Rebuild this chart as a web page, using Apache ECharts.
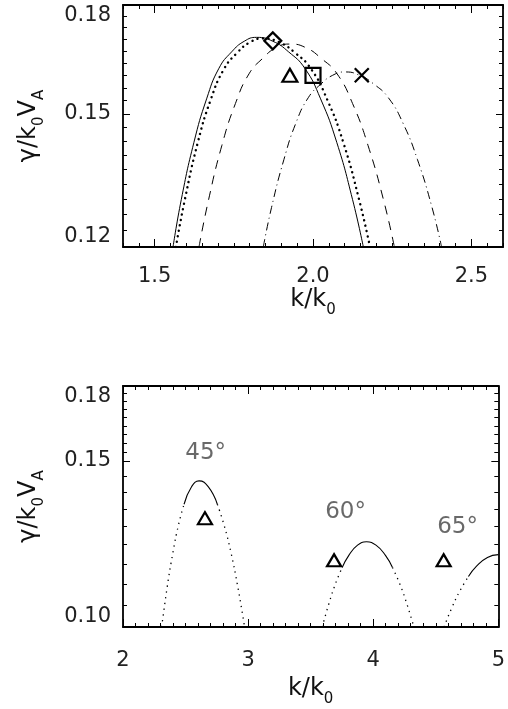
<!DOCTYPE html>
<html><head><meta charset="utf-8">
<script src="https://cdn.jsdelivr.net/npm/echarts@6/dist/echarts.min.js"></script>
<style>html,body{margin:0;padding:0;background:#fff}#c{width:508px;height:709px}</style>
</head><body><div id="c"></div>
<script>
const FONT = 'DejaVu Sans';

// ---------- top panel data ----------
const solidK  = [1.558, 1.584, 1.624, 1.664, 1.703, 1.743, 1.783, 1.822, 1.873, 1.923, 1.974, 2.024, 2.075, 2.125, 2.159];
const solidG  = [0.1200, 0.1299, 0.1430, 0.1538, 0.1619, 0.1664, 0.1694, 0.1705, 0.1694, 0.1664, 0.1619, 0.1538, 0.1430, 0.1299, 0.1200];
const dotK    = [1.567, 1.595, 1.636, 1.677, 1.719, 1.760, 1.801, 1.842, 1.893, 1.944, 1.994, 2.045, 2.096, 2.146, 2.180];
const dotG    = [0.1200, 0.1298, 0.1429, 0.1536, 0.1617, 0.1661, 0.1691, 0.1702, 0.1691, 0.1661, 0.1617, 0.1536, 0.1429, 0.1298, 0.1200];
const dashK   = [1.640, 1.669, 1.712, 1.755, 1.798, 1.841, 1.884, 1.927, 1.977, 2.026, 2.076, 2.125, 2.174, 2.224, 2.257];
const dashG   = [0.1200, 0.1295, 0.1422, 0.1526, 0.1604, 0.1646, 0.1676, 0.1686, 0.1676, 0.1646, 0.1604, 0.1526, 0.1422, 0.1295, 0.1200];
const ddK     = [1.843, 1.869, 1.908, 1.946, 1.985, 2.024, 2.062, 2.101, 2.147, 2.193, 2.238, 2.284, 2.330, 2.376, 2.406];
const ddG     = [0.1200, 0.1282, 0.1389, 0.1477, 0.1541, 0.1576, 0.1600, 0.1609, 0.1600, 0.1576, 0.1541, 0.1477, 0.1389, 0.1282, 0.1200];
const diamondPt  = [1.873, 0.1695];
const trianglePt = [1.927, 0.1600];
const squarePt   = [2.000, 0.1600];
const crossPt    = [2.154, 0.1600];

// ---------- bottom panel data ----------
const c45K = [2.309, 2.354, 2.399, 2.443, 2.488, 2.548, 2.608, 2.681, 2.754, 2.808, 2.863, 2.917, 2.972];
const c45G = [0.1000, 0.1104, 0.1199, 0.1282, 0.1349, 0.1408, 0.1428, 0.1408, 0.1349, 0.1282, 0.1199, 0.1104, 0.1000];
const c60K = [3.593, 3.646, 3.699, 3.752, 3.805, 3.875, 3.946, 4.022, 4.098, 4.154, 4.211, 4.268, 4.325];
const c60G = [0.1000, 0.1059, 0.1112, 0.1156, 0.1191, 0.1221, 0.1231, 0.1221, 0.1191, 0.1156, 0.1112, 0.1059, 0.1000];
const c65K = [4.566, 4.631, 4.696, 4.761, 4.826, 4.913, 5.000];
const c65G = [0.1000, 0.1050, 0.1094, 0.1131, 0.1160, 0.1185, 0.1193];
const triK = [2.655, 3.687, 4.563];
const triG = [0.1304, 0.1177, 0.1177];
const angleNames = ['45°', '60°', '65°'];
const angleK = [2.661, 3.779, 4.674];
const angleG = [0.1527, 0.1325, 0.1277];

// ---------- ticks ----------
const topXTicks = [1.5, 2.0, 2.5];
const topYTicks = [0.12, 0.15, 0.18];
const topYMinor = []; for (let i = 0; i <= 18; i++) topYMinor.push(+(0.12 + i / 300).toFixed(5));
const botYTicks = [0.10, 0.15, 0.18];
const botYMinor = [];
for (let i = 0; i <= 9; i++) botYMinor.push(+(0.10 + i * 0.05 / 9).toFixed(5));
for (let i = 1; i <= 9; i++) botYMinor.push(+(0.15 + i / 300).toFixed(5));

const pts = (ks, gs, a, b) => ks.slice(a, b + 1).map((k, i) => [k, gs[a + i]]);

const richName = {
  a: {fontFamily: FONT, fontSize: 24, color: '#111', lineHeight: 30, verticalAlign: 'top'},
  s: {fontFamily: FONT, fontSize: 15, color: '#111', lineHeight: 13, verticalAlign: 'bottom'}
};
const BLACK = '#000';
const LABEL_COLOR = '#222';

function xAxisDef(grid, pos, min, max, opts) {
  return Object.assign({
    type: 'value', gridIndex: grid, position: pos, min: min, max: max,
    axisLine: {show: true, onZero: false, lineStyle: {color: BLACK, width: 1.8}},
    axisTick: {show: true, inside: true, length: 8, lineStyle: {color: BLACK, width: 1}},
    axisLabel: {show: false},
    splitLine: {show: false}
  }, opts);
}
function yAxisDef(grid, pos, min, max, opts) {
  return Object.assign({
    type: 'log', logBase: 10, gridIndex: grid, position: pos, min: min, max: max,
    axisLine: {show: true, onZero: false, lineStyle: {color: BLACK, width: 1.8}},
    axisTick: {show: true, inside: true, length: 7, lineStyle: {color: BLACK, width: 1}},
    axisLabel: {show: false},
    splitLine: {show: false}, minorSplitLine: {show: false}
  }, opts);
}
const minorX = (grid, pos, min, max, interval) => xAxisDef(grid, pos, min, max, {
  interval: interval,
  axisLine: {show: false, onZero: false},
  axisTick: {show: true, inside: true, length: 4, lineStyle: {color: BLACK, width: 1}}
});
const minorY = (grid, pos, min, max, vals) => yAxisDef(grid, pos, min, max, {
  axisLine: {show: false, onZero: false},
  axisTick: {show: true, inside: true, length: 4, customValues: vals, lineStyle: {color: BLACK, width: 1}}
});
const yLabel = (vals, fmt) => ({
  show: true, customValues: vals, formatter: fmt, margin: 12,
  color: LABEL_COLOR, fontFamily: FONT, fontSize: 21,
  verticalAlignMinLabel: 'bottom', verticalAlignMaxLabel: 'top'
});

const xAxes = [
  // top panel
  xAxisDef(0, 'bottom', 1.4, 2.6, {
    axisTick: {show: true, inside: true, length: 8, customValues: topXTicks, lineStyle: {color: BLACK, width: 1}},
    axisLabel: {show: true, customValues: topXTicks, formatter: v => v.toFixed(1), margin: 19,
      color: LABEL_COLOR, fontFamily: FONT, fontSize: 21},
    name: '{a|k/k}{s|0}', nameLocation: 'middle', nameGap: 38,
    nameTextStyle: {rich: richName}
  }),
  minorX(0, 'bottom', 1.4, 2.6, 0.05),
  xAxisDef(0, 'top', 1.4, 2.6, {
    axisTick: {show: true, inside: true, length: 8, customValues: topXTicks, lineStyle: {color: BLACK, width: 1}}
  }),
  minorX(0, 'top', 1.4, 2.6, 0.05),
  // bottom panel
  xAxisDef(1, 'bottom', 2, 5, {
    interval: 1,
    minorTick: {show: true, splitNumber: 10, length: 4, lineStyle: {color: BLACK, width: 1}},
    axisLabel: {show: true, formatter: v => String(v), margin: 23,
      color: LABEL_COLOR, fontFamily: FONT, fontSize: 21},
    name: '{a|k/k}{s|0}', nameLocation: 'middle', nameGap: 50,
    nameTextStyle: {rich: richName}
  }),
  xAxisDef(1, 'top', 2, 5, {
    interval: 1,
    minorTick: {show: true, splitNumber: 10, length: 4, lineStyle: {color: BLACK, width: 1}}
  })
];

const yName = '{a|γ/k}{s|0}{a|V}{s|A}';
const yAxes = [
  yAxisDef(0, 'left', 0.12, 0.18, {
    axisTick: {show: true, inside: true, length: 7, customValues: topYTicks, lineStyle: {color: BLACK, width: 1}},
    axisLabel: yLabel(topYTicks, v => v.toFixed(2)),
    name: yName, nameLocation: 'middle', nameRotate: 90, nameGap: 76,
    nameTextStyle: {rich: richName}
  }),
  minorY(0, 'left', 0.12, 0.18, topYMinor),
  yAxisDef(0, 'right', 0.12, 0.18, {
    axisTick: {show: true, inside: true, length: 7, customValues: topYTicks, lineStyle: {color: BLACK, width: 1}}
  }),
  minorY(0, 'right', 0.12, 0.18, topYMinor),
  yAxisDef(1, 'left', 0.10, 0.18, {
    axisTick: {show: true, inside: true, length: 7, customValues: botYTicks, lineStyle: {color: BLACK, width: 1}},
    axisLabel: yLabel(botYTicks, v => v.toFixed(2)),
    name: yName, nameLocation: 'middle', nameRotate: 90, nameGap: 76,
    nameTextStyle: {rich: richName}
  }),
  minorY(1, 'left', 0.10, 0.18, botYMinor),
  yAxisDef(1, 'right', 0.10, 0.18, {
    axisTick: {show: true, inside: true, length: 7, customValues: botYTicks, lineStyle: {color: BLACK, width: 1}}
  }),
  minorY(1, 'right', 0.10, 0.18, botYMinor)
];

const curve = (ks, gs, a, b, ls, xi, yi) => ({
  type: 'line', xAxisIndex: xi, yAxisIndex: yi, data: pts(ks, gs, a, b),
  smooth: true, symbol: 'none', silent: true, lineStyle: ls, z: 3
});
const hollow = {color: 'transparent', borderColor: BLACK, borderWidth: 2.2, opacity: 1};
const marker = (pt, symbol, size) => ({
  type: 'scatter', xAxisIndex: 0, yAxisIndex: 0, data: [pt], symbol: symbol, symbolSize: size,
  itemStyle: hollow, z: 5, silent: true
});
const dotsStyle = {color: BLACK, width: 1.3, type: [1.3, 4.5]};
const solidThin = {color: BLACK, width: 1.1};

const series = [
  curve(solidK, solidG, 0, solidK.length - 1, {color: BLACK, width: 1}, 0, 0),
  curve(dotK, dotG, 0, dotK.length - 1, {color: BLACK, width: 2.4, type: [0.1, 5.4], cap: 'round'}, 0, 0),
  curve(dashK, dashG, 0, dashK.length - 1, {color: BLACK, width: 1, type: [9, 7]}, 0, 0),
  curve(ddK, ddG, 0, ddK.length - 1, {color: BLACK, width: 1, type: [8, 4, 1, 4]}, 0, 0),
  marker(diamondPt, 'diamond', 17),
  marker(trianglePt, 'triangle', [15, 13]),
  marker(squarePt, 'rect', 15),
  marker(crossPt, 'path://M0 0L10 10M10 0L0 10', 14),
  // bottom panel
  curve(c45K, c45G, 0, 4, dotsStyle, 4, 4),
  curve(c45K, c45G, 4, 8, solidThin, 4, 4),
  curve(c45K, c45G, 8, 12, dotsStyle, 4, 4),
  curve(c60K, c60G, 0, 3, dotsStyle, 4, 4),
  curve(c60K, c60G, 3, 9, solidThin, 4, 4),
  curve(c60K, c60G, 9, 12, dotsStyle, 4, 4),
  curve(c65K, c65G, 0, 3, dotsStyle, 4, 4),
  curve(c65K, c65G, 3, 6, solidThin, 4, 4),
  {
    type: 'scatter', xAxisIndex: 4, yAxisIndex: 4, silent: true, z: 5,
    data: triK.map((k, i) => [k, triG[i]]), symbol: 'triangle', symbolSize: [14, 12],
    itemStyle: hollow
  },
  {
    type: 'scatter', xAxisIndex: 4, yAxisIndex: 4, silent: true, z: 6,
    data: angleK.map((k, i) => ({name: angleNames[i], value: [k, angleG[i]]})),
    symbolSize: 1, itemStyle: {color: 'transparent'},
    label: {show: true, position: 'inside', formatter: '{b}', color: '#444',
      fontFamily: FONT, fontSize: 23}
  }
];

const chart = echarts.init(document.getElementById('c'), null, {renderer: 'canvas'});
chart.setOption({
  animation: false,
  backgroundColor: '#fff',
  grid: [
    {left: 123, top: 5, width: 380, height: 242},
    {left: 123, top: 386, width: 380, height: 241}
  ],
  xAxis: xAxes,
  yAxis: yAxes,
  series: series
});
</script>
</body></html>
